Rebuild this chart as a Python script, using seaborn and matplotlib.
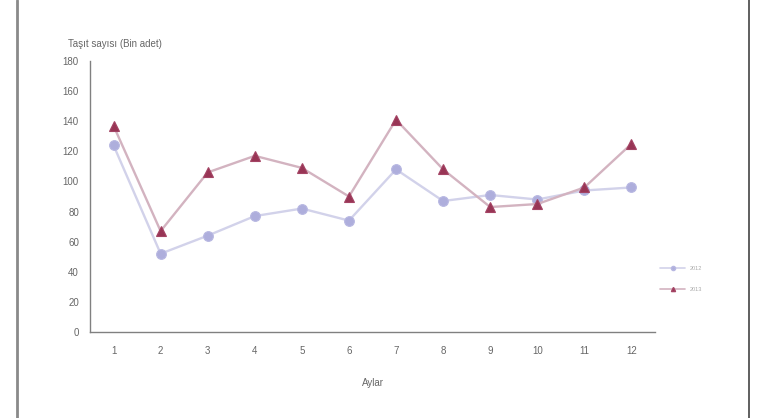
import matplotlib
matplotlib.use("Agg")
import matplotlib.pyplot as plt
import seaborn as sns
import pandas as pd
import numpy as np
from matplotlib.lines import Line2D

months = list(range(1, 13))
series_names = ["2012", "2013"]
values_2012 = [124, 52, 64, 77, 82, 74, 108, 87, 91, 88, 94, 96]
values_2013 = [137, 67, 106, 117, 109, 90, 141, 108, 83, 85, 96, 125]
y_ticks = list(range(0, 181, 20))

df = pd.DataFrame({
    "Ay": months * 2,
    "Değer": values_2012 + values_2013,
    "Seri": [series_names[0]] * 12 + [series_names[1]] * 12,
})

sns.set_style("white")
plt.rcParams["font.family"] = ["Liberation Sans", "DejaVu Sans"]

fig = plt.figure(figsize=(7.61, 4.18), dpi=100)
ax = fig.add_axes([90/761, 1-332/418, (655-90)/761, (332-61)/418])

line_cols = {"2012": "#d2d2ea", "2013": "#d3b3c0"}
mk_face = {"2012": "#aeaedc", "2013": "#983555"}
mk_edge = {"2012": "#b8b8e2", "2013": "#a44464"}
mk = {"2012": "o", "2013": "^"}

for s in series_names:
    sub = df[df["Seri"] == s]
    sns.lineplot(data=sub, x="Ay", y="Değer", ax=ax, color=line_cols[s], lw=1.7,
                 marker=mk[s], markersize=7, markerfacecolor=mk_face[s],
                 markeredgecolor=mk_edge[s], markeredgewidth=0.8, legend=False)

ax.set_xlim(0.5, 12.5)
ax.set_ylim(0, 180)
ax.set_yticks(y_ticks)
ax.set_xticks(months)
ax.set_xticks(np.arange(0.5, 12.6, 1), minor=True)
ax.tick_params(axis="x", which="major", length=0, labelsize=7, colors="#666666", pad=10)
ax.tick_params(axis="x", which="minor", length=3, color="#808080", direction="inout")
ax.tick_params(axis="y", which="major", length=4, color="#808080", direction="inout",
               labelsize=7, labelcolor="#666666", pad=6)
for side in ["top", "right"]:
    ax.spines[side].set_visible(False)
for side in ["left", "bottom"]:
    ax.spines[side].set_color("#808080")
    ax.spines[side].set_linewidth(1.0)
ax.set_xlabel("Aylar", fontsize=7, color="#666666", labelpad=16)
ax.set_ylabel("")
fig.text(68/761, 1-44/418, "Taşıt sayısı (Bin adet)", fontsize=7, color="#666666",
         ha="left", va="center")

handles = [Line2D([0], [0], color=line_cols[s], lw=1.2, marker=mk[s], markersize=3,
                  markerfacecolor=mk_face[s], markeredgecolor=mk_edge[s])
           for s in series_names]
leg = fig.legend(handles, series_names, loc="center left",
                 bbox_to_anchor=(655/761, 1-279/418), frameon=False, fontsize=4,
                 handlelength=4.5, labelspacing=3.0, labelcolor="#aaaaaa")

fig.add_artist(Line2D([17/761, 17/761], [0, 1], transform=fig.transFigure,
                      color="#8a8a8a", lw=2))
fig.add_artist(Line2D([749/761, 749/761], [0, 1], transform=fig.transFigure,
                      color="#444444", lw=1.2))

fig.savefig("out.png", dpi=100)
